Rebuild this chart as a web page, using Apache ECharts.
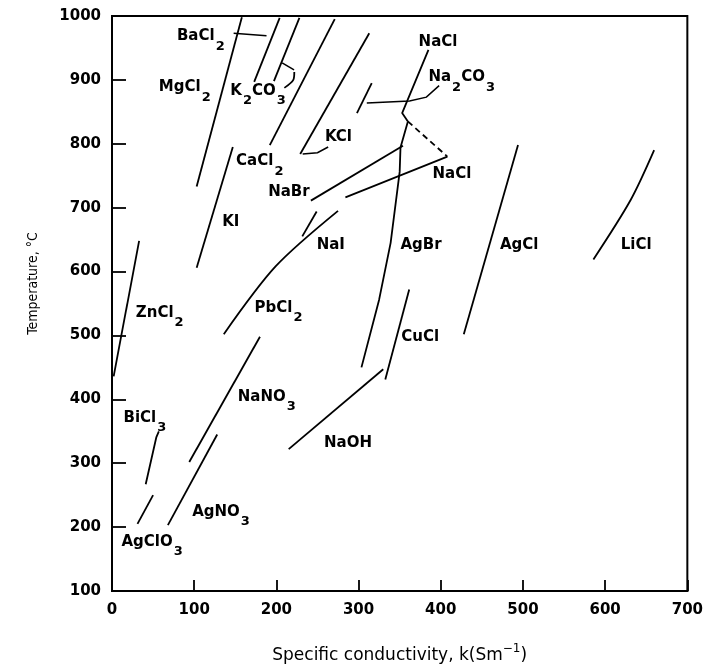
<!DOCTYPE html>
<html><head><meta charset="utf-8">
<script src="https://cdn.jsdelivr.net/npm/echarts@6/dist/echarts.min.js"></script>
<style>html,body{margin:0;background:#fff}#c{width:706px;height:669px}</style>
</head><body><div id="c"></div>
<script>
// ---- data (x: specific conductivity S/m, y: temperature °C) ----
const MgCl2   = [[103,733],[158,998]];
const BaCl2   = [[173,897],[204,997]];
const K2CO3   = [[197,898],[228,997]];
const CaCl2   = [[192,798],[271,995]];
const KCl     = [[229,784],[313,973]];
const Na2CO3  = [[298,848],[316,895]];
const KI      = [[103,606],[147,795]];
const NaClTop = [[385,947],[353,848],[360,835]];
const NaClDash= [[360,835],[408,780]];
const NaClLow = [[284,716],[408,780]];
const NaBr    = [[242,711],[354,797]];
const AgBr    = [[303.5,450],[325,556],[339,645],[350,756],[351,794],[360,835]];
const PbCl2   = [[136,502],[199,608],[275,695]];
const NaI     = [[231.5,655],[249,694]];
const NaOH    = [[215,322],[330,447]];
const CuCl    = [[332.5,431],[361.6,572]];
const AgCl    = [[428,502],[494,798]];
const LiCl    = [[585.7,619],[631,712],[659.6,790]];
const ZnCl2   = [[2,436],[33,648]];
const BiCl3   = [[41,267],[54,341],[57,350]];
const AgClO3  = [[31,205],[50,250]];
const AgNO3   = [[68,203],[128,345]];
const NaNO3   = [[94,302],[180,498]];

const arrowBaCl2  = [[148,973],[188,969]];
const arrowKCl    = [[263,795],[250,786],[232,784]];
const arrowNa2CO3 = [[398,891],[382.5,873],[362,867],[310,864]];
const arrowK2CO3  = [[207,926.5],[221.5,915.6]];
const curveK2CO3  = [[209.7,887.5],[220.6,900],[221.8,912.5]];

const labelTexts = ['BaCl_2','MgCl_2','K_2CO_3','KCl','CaCl_2','NaBr','NaCl','Na_2CO_3','NaCl','KI','NaI',
  'AgBr','AgCl','LiCl','ZnCl_2','PbCl_2','CuCl','NaNO_3','BiCl_3','NaOH','AgNO_3','AgClO_3'];
const labelAnchors = [[79,969],[57,889],[144,884],[259,811],[151,773],[190,725],[373,959],[385,905],[390,752],
  [134,678],[249,642],[351,642],[472,642],[619,642],[29,536],[173.5,544],[352,498],[153,405],[14,372],
  [258,331],[97.6,225],[11.5,178]];

const xTickValues = [0,100,200,300,400,500,600,700];
const yTickValues = [100,200,300,400,500,600,700,800,900,1000];

// ---- build ----
const solidCurves = [MgCl2,BaCl2,K2CO3,CaCl2,KCl,Na2CO3,KI,NaClTop,NaClLow,NaBr,AgBr,PbCl2,NaI,NaOH,CuCl,AgCl,LiCl,ZnCl2,BiCl3,AgClO3,AgNO3,NaNO3,curveK2CO3];
const smoothSet = new Set([PbCl2, LiCl, curveK2CO3]);
const INK = '#000';

function richOf(t){
  const parts = t.split(/(_\d)/).filter(s=>s.length);
  return parts.map(p => p[0]==='_' ? '{s|'+p.slice(1)+'}' : '{m|'+p+'}').join('');
}
const series = [];
solidCurves.forEach(c => series.push({
  type:'line', data:c, showSymbol:false, smooth: smoothSet.has(c) ? 0.3 : false,
  lineStyle:{color:INK, width:1.8}, silent:true, z:3
}));
series.push({type:'line', data:NaClDash, showSymbol:false,
  lineStyle:{color:INK, width:1.8, type:[6,4]}, silent:true});
series.push({
  type:'lines', coordinateSystem:'cartesian2d', polyline:true, silent:true,
  symbol:['none','arrow'], symbolSize:8,
  lineStyle:{color:INK, width:1.5, opacity:1},
  data:[arrowBaCl2, arrowKCl, arrowNa2CO3, arrowK2CO3].map(c=>({coords:c}))
});
series.push({
  type:'scatter', symbolSize:0, silent:true, z:5,
  itemStyle:{opacity:1, color:INK},
  data: labelAnchors.map((p,i)=>({
    value:p,
    label:{formatter: richOf(labelTexts[i]), offset: labelTexts[i].includes('_') ? [0,5] : [0,0]}
  })),
  label:{show:true, position:'right', distance:0, color:INK, opacity:1,
    rich:{
      m:{fontFamily:'DejaVu Sans', fontWeight:'bold', fontSize:15, verticalAlign:'top', color:INK, opacity:1},
      s:{fontFamily:'DejaVu Sans', fontWeight:'bold', fontSize:13, verticalAlign:'bottom', padding:[11,0,0,1], color:INK, opacity:1}
    }}
});

const chart = echarts.init(document.getElementById('c'), null, {renderer:'canvas'});
chart.setOption({
  animation:false,
  backgroundColor:'#fff',
  grid:{left:112, right:15, top:16, bottom:77, show:true, borderColor:INK, borderWidth:2, containLabel:false},
  xAxis:{
    type:'value', min:xTickValues[0], max:xTickValues[xTickValues.length-1], interval:100,
    axisLine:{show:true, lineStyle:{color:INK, width:2}},
    axisTick:{show:true, inside:true, length:11, lineStyle:{color:INK, width:1.8}},
    splitLine:{show:false},
    axisLabel:{color:INK, fontFamily:'DejaVu Sans', fontWeight:'bold', fontSize:15, margin:12, formatter:v=>String(v)},
    name:'{n|Specific conductivity, k(Sm}{p|\u22121}{n|)}',
    nameLocation:'middle', nameGap:52,
    nameTextStyle:{rich:{
      n:{fontFamily:'DejaVu Sans', fontSize:17, color:INK, verticalAlign:'bottom'},
      p:{fontFamily:'DejaVu Sans', fontSize:12, color:INK, verticalAlign:'top', padding:[0,0,9,0]}
    }}
  },
  yAxis:{
    type:'value', min:yTickValues[0], max:yTickValues[yTickValues.length-1], interval:100,
    axisLine:{show:true, lineStyle:{color:INK, width:2}},
    axisTick:{show:true, inside:true, length:14, lineStyle:{color:INK, width:1.8}},
    splitLine:{show:false},
    axisLabel:{color:INK, fontFamily:'DejaVu Sans', fontWeight:'bold', fontSize:15, margin:11, formatter:v=>String(v)},
    name:'Temperature, °C', nameLocation:'middle', nameGap:72,
    nameTextStyle:{fontFamily:'DejaVu Sans Condensed, Liberation Sans Narrow, sans-serif', fontSize:14, color:INK, padding:[0,0,0,40]}
  },
  series
});
</script></body></html>
